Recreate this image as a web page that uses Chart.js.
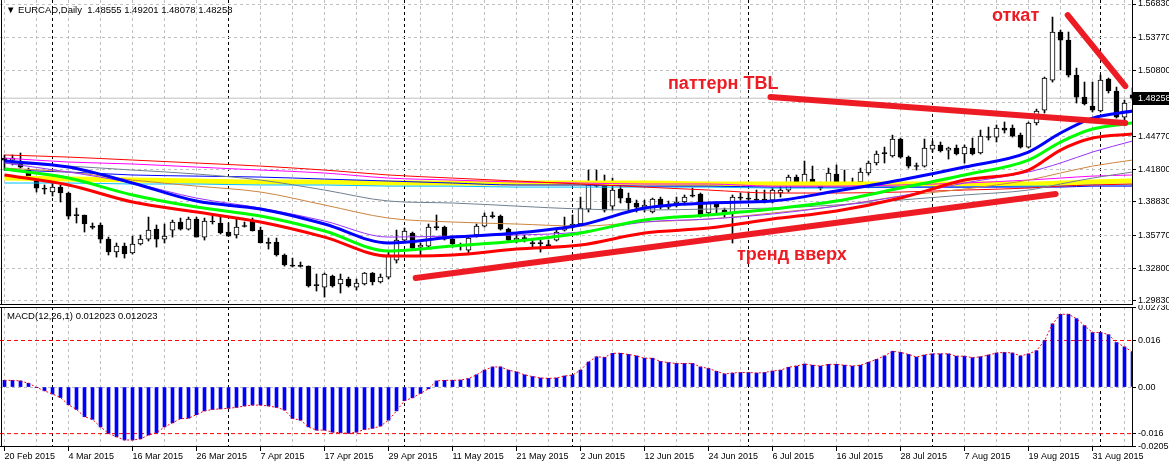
<!DOCTYPE html>
<html>
<head>
<meta charset="utf-8">
<title>EURCAD Daily</title>
<script src="https://cdn.jsdelivr.net/npm/chart.js@4.4.1/dist/chart.umd.min.js"></script>
<style>
  body { margin: 0; background: #fff; }
  #wrap { position: relative; width: 1169px; height: 469px; overflow: hidden; font-family: 'Liberation Sans', Arial, sans-serif; }
  #priceChart { position: absolute; left: 0; top: 0; }
  #macdChart { position: absolute; left: 0; top: 305px; }
  .caption { position: absolute; font-size: 9.5px; color: #000; white-space: pre; }
  .note { position: absolute; color: #ed1c24; font-weight: bold; font-size: 18px; white-space: nowrap; }
</style>
</head>
<body>
<div id="wrap">
  <canvas id="priceChart" width="1169" height="305"></canvas>
  <canvas id="macdChart" width="1169" height="164"></canvas>
  <div class="caption" style="left:6px;top:4px">▼ EURCAD,Daily  1.48555 1.49201 1.48078 1.48258</div>
  <div class="caption" style="left:7px;top:310px">MACD(12,26,1) 0.012023 0.012023</div>
  <div class="note" style="left:668px;top:73px">паттерн TBL</div>
  <div class="note" style="left:737px;top:244px">тренд вверх</div>
  <div class="note" style="left:992px;top:5px">откат</div>
</div>
<script>
// Daily bars, 20 Feb 2015 .. 7 Sep 2015 (weekdays), index 0..141
const OPEN = [
  1.4281,1.4263,1.4245,1.4172,1.4081,1.4008,1.3972,1.4017,1.3963,1.3763,
  1.3763,1.3653,1.3672,1.3544,1.3426,1.3480,1.3417,1.3499,1.3544,1.3635,
  1.3544,1.3626,1.3699,1.3635,1.3726,1.3562,1.3708,1.3690,1.3608,1.3581,
  1.3662,1.3708,1.3626,1.3508,1.3517,1.3399,1.3298,1.3302,1.3298,1.3126,
  1.3107,1.3207,1.3135,1.3180,1.3107,1.3135,1.3235,1.3153,1.3198,1.3353,
  1.3535,1.3599,1.3471,1.3480,1.3653,1.3653,1.3544,1.3490,1.3444,1.3581,
  1.3662,1.3753,1.3753,1.3635,1.3535,1.3553,1.3508,1.3508,1.3490,1.3535,
  1.3626,1.3653,1.3681,1.3817,1.4026,1.4036,1.3844,1.3999,1.3917,1.3872,
  1.3835,1.3790,1.3908,1.3835,1.3863,1.3881,1.3935,1.3954,1.3781,1.3872,
  1.3808,1.3781,1.3926,1.3917,1.3908,1.3908,1.3899,1.3963,1.3990,1.4108,
  1.4054,1.4090,1.4026,1.4054,1.4136,1.4063,1.4054,1.4063,1.4145,1.4236,
  1.4327,1.4300,1.4454,1.4290,1.4208,1.4208,1.4363,1.4400,1.4354,1.4372,
  1.4318,1.4372,1.4327,1.4472,1.4472,1.4554,1.4554,1.4490,1.4381,1.4600,
  1.4718,1.4991,1.5428,1.5355,1.5036,1.4836,1.4755,1.4709,1.5000,1.4891,
  1.4654,1.48555
];
const HIGH = [
  1.4309,1.4309,1.4327,1.4190,1.4099,1.4036,1.4054,1.4036,1.3972,1.3826,
  1.3763,1.3690,1.3690,1.3562,1.3508,1.3508,1.3571,1.3581,1.3744,1.3672,
  1.3681,1.3717,1.3735,1.3744,1.3744,1.3735,1.3753,1.3744,1.3690,1.3735,
  1.3699,1.3735,1.3653,1.3553,1.3553,1.3408,1.3371,1.3335,1.3300,1.3226,
  1.3235,1.3216,1.3226,1.3198,1.3180,1.3240,1.3240,1.3226,1.3426,1.3626,
  1.3644,1.3608,1.3508,1.3681,1.3763,1.3662,1.3553,1.3508,1.3571,1.3681,
  1.3781,1.3790,1.3763,1.3644,1.3599,1.3581,1.3535,1.3535,1.3535,1.3635,
  1.3744,1.3763,1.3926,1.4172,1.4172,1.4127,1.4099,1.4054,1.3963,1.3899,
  1.3899,1.3917,1.3926,1.3890,1.3926,1.3945,1.4008,1.3963,1.3881,1.3881,
  1.3826,1.3945,1.3963,1.3972,1.3990,1.3990,1.4008,1.4026,1.4127,1.4127,
  1.4254,1.4208,1.4063,1.4190,1.4218,1.4172,1.4099,1.4190,1.4254,1.4345,
  1.4381,1.4490,1.4463,1.4300,1.4236,1.4454,1.4436,1.4427,1.4381,1.4400,
  1.4400,1.4463,1.4536,1.4563,1.4582,1.4609,1.4582,1.4509,1.4609,1.4727,
  1.5018,1.5564,1.5446,1.5428,1.5100,1.4973,1.4973,1.5036,1.5009,1.4927,
  1.4809,1.49201
];
const LOW = [
  1.4172,1.4218,1.4190,1.4108,1.3972,1.3954,1.3935,1.3881,1.3726,1.3690,
  1.3608,1.3635,1.3508,1.3399,1.3380,1.3371,1.3408,1.3490,1.3526,1.3471,
  1.3508,1.3562,1.3626,1.3626,1.3562,1.3535,1.3681,1.3590,1.3571,1.3553,
  1.3653,1.3617,1.3508,1.3453,1.3389,1.3298,1.3289,1.3289,1.3107,1.3071,
  1.3016,1.3107,1.3053,1.3107,1.3080,1.3126,1.3126,1.3144,1.3180,1.3326,
  1.3517,1.3453,1.3389,1.3471,1.3626,1.3535,1.3471,1.3444,1.3417,1.3562,
  1.3653,1.3735,1.3626,1.3517,1.3508,1.3517,1.3471,1.3426,1.3462,1.3526,
  1.3617,1.3644,1.3672,1.3790,1.4017,1.3790,1.3808,1.3872,1.3790,1.3790,
  1.3790,1.3781,1.3817,1.3817,1.3835,1.3854,1.3926,1.3744,1.3763,1.3781,
  1.3744,1.3508,1.3899,1.3899,1.3881,1.3872,1.3872,1.3926,1.3972,1.4036,
  1.4036,1.4026,1.3990,1.4026,1.4036,1.4036,1.4026,1.4054,1.4127,1.4218,
  1.4236,1.4290,1.4281,1.4190,1.4172,1.4199,1.4336,1.4336,1.4272,1.4309,
  1.4236,1.4309,1.4318,1.4445,1.4427,1.4509,1.4472,1.4372,1.4372,1.4582,
  1.4691,1.4973,1.5082,1.5018,1.4782,1.4764,1.4700,1.4700,1.4873,1.4645,
  1.4627,1.48078
];
const CLOSE = [
  1.4263,1.4281,1.4199,1.4117,1.4008,1.3999,1.4017,1.3963,1.3753,1.3758,
  1.3681,1.3650,1.3544,1.3426,1.3480,1.3408,1.3499,1.3544,1.3626,1.3544,
  1.3571,1.3699,1.3635,1.3726,1.3562,1.3708,1.3699,1.3599,1.3571,1.3653,
  1.3658,1.3617,1.3508,1.3505,1.3399,1.3308,1.3302,1.3295,1.3117,1.3120,
  1.3226,1.3117,1.3180,1.3117,1.3144,1.3235,1.3153,1.3198,1.3399,1.3535,
  1.3617,1.3462,1.3490,1.3653,1.3648,1.3544,1.3499,1.3485,1.3553,1.3662,
  1.3753,1.3748,1.3635,1.3535,1.3553,1.3548,1.3503,1.3503,1.3485,1.3608,
  1.3653,1.3681,1.3826,1.4036,1.4031,1.3808,1.3990,1.3917,1.3872,1.3835,
  1.3854,1.3908,1.3835,1.3863,1.3881,1.3926,1.3945,1.3763,1.3872,1.3835,
  1.3772,1.3926,1.3917,1.3908,1.3899,1.3890,1.3990,1.3990,1.4108,1.4063,
  1.4136,1.4054,1.4008,1.4145,1.4063,1.4054,1.4063,1.4154,1.4236,1.4318,
  1.4322,1.4454,1.4290,1.4208,1.4204,1.4372,1.4400,1.4345,1.4372,1.4318,
  1.4381,1.4318,1.4481,1.4468,1.4554,1.4536,1.4481,1.4381,1.4600,1.4709,
  1.5009,1.5428,1.5355,1.5036,1.4836,1.4773,1.4718,1.4991,1.4891,1.4654,
  1.4782,1.48258
];

// MACD(12,26,1) main value per bar; the signal (period 1) equals it
const MACD = [
  0.0023,0.0023,0.0021,0.0013,-0.0001,-0.0013,-0.0024,-0.0036,-0.0061,-0.0077,
  -0.0102,-0.0111,-0.0137,-0.0159,-0.0171,-0.0182,-0.0182,-0.0178,-0.0165,-0.0157,
  -0.0137,-0.0123,-0.0109,-0.0107,-0.0095,-0.0082,-0.0077,-0.0075,-0.0073,-0.0070,
  -0.0065,-0.0062,-0.0062,-0.0065,-0.0070,-0.0079,-0.0108,-0.0114,-0.0137,-0.0148,
  -0.0148,-0.0155,-0.0157,-0.0159,-0.0155,-0.0146,-0.0142,-0.0134,-0.0114,-0.0082,
  -0.0047,-0.0037,-0.0022,-0.0006,0.0021,0.0023,0.0023,0.0024,0.0029,0.0042,
  0.0058,0.0069,0.0069,0.0058,0.0052,0.0042,0.0036,0.0031,0.0030,0.0031,
  0.0038,0.0041,0.0058,0.0086,0.0104,0.0102,0.0116,0.0116,0.0112,0.0107,
  0.0099,0.0099,0.0088,0.0084,0.0081,0.0081,0.0081,0.0069,0.0064,0.0054,
  0.0045,0.0048,0.0050,0.0050,0.0048,0.0050,0.0055,0.0058,0.0068,0.0072,
  0.0079,0.0075,0.0072,0.0078,0.0078,0.0075,0.0072,0.0075,0.0085,0.0095,
  0.0107,0.0123,0.0119,0.0112,0.0103,0.0110,0.0114,0.0114,0.0114,0.0106,
  0.0106,0.0101,0.0104,0.0110,0.0117,0.0119,0.0117,0.0107,0.0114,0.0125,
  0.0159,0.0217,0.0250,0.0250,0.0235,0.0211,0.0187,0.0188,0.0180,0.0153,
  0.0138,0.0120
];
const MACD_LEVELS = [0.016, -0.016];

// moving averages, read at these bar indices
const MA_IDX = [0,8,16,24,32,40,48,56,64,72,80,88,96,104,112,120,128,132,136,141];
const MA_BLUE   = [1.4254,1.4199,1.4054,1.3890,1.3817,1.3681,1.3508,1.3562,1.3599,1.3672,1.3826,1.3872,1.3890,1.3981,1.4081,1.4199,1.4336,1.4509,1.4645,1.4709];
const MA_GREEN  = [1.4181,1.4099,1.3945,1.3835,1.3753,1.3617,1.3435,1.3480,1.3526,1.3599,1.3717,1.3763,1.3817,1.3890,1.4008,1.4127,1.4263,1.4427,1.4545,1.4600];
const MA_RED    = [1.4127,1.4036,1.3881,1.3790,1.3699,1.3562,1.3389,1.3399,1.3453,1.3490,1.3599,1.3644,1.3726,1.3799,1.3917,1.4081,1.4172,1.4354,1.4463,1.4500];
const MA_PURPLE = [1.4236,1.4154,1.4054,1.3917,1.3826,1.3708,1.3562,1.3571,1.3581,1.3608,1.3699,1.3726,1.3772,1.3844,1.3935,1.4054,1.4154,1.4236,1.4336,1.4436];
const MA_BROWN  = [1.4190,1.4154,1.4081,1.4026,1.3972,1.3854,1.3735,1.3699,1.3681,1.3662,1.3699,1.3726,1.3781,1.3844,1.3935,1.3999,1.4081,1.4145,1.4208,1.4263];
const MA_GRAY   = [1.4236,1.4208,1.4172,1.4136,1.4081,1.3990,1.3890,1.3872,1.3844,1.3817,1.3808,1.3817,1.3826,1.3854,1.3899,1.3945,1.3990,1.4045,1.4099,1.4154];
const MA_RED2   = [1.4309,1.4290,1.4263,1.4236,1.4208,1.4172,1.4127,1.4099,1.4072,1.4045,1.4017,1.3990,1.3963,1.3963,1.3972,1.3990,1.4008,1.4026,1.4036,1.4045];
const MA_MAGENTA= [1.4281,1.4245,1.4227,1.4199,1.4172,1.4145,1.4099,1.4081,1.4063,1.4054,1.4045,1.4045,1.4026,1.4026,1.4036,1.4054,1.4081,1.4099,1.4117,1.4127];
const MA_YELLOW = [1.4099,1.4090,1.4081,1.4072,1.4063,1.4063,1.4054,1.4054,1.4054,1.4054,1.4054,1.4045,1.4045,1.4045,1.4045,1.4045,1.4045,1.4054,1.4063,1.4072];
const MA_BLUE2  = [1.4172,1.4154,1.4127,1.4117,1.4108,1.4090,1.4072,1.4054,1.4036,1.4036,1.4026,1.4026,1.4017,1.4017,1.4017,1.4017,1.4017,1.4017,1.4026,1.4026];
const MA_CYAN   = [1.4054,1.4054,1.4045,1.4045,1.4036,1.4036,1.4026,1.4026,1.4017,1.4017,1.4017,1.4017,1.4008,1.4008,1.4017,1.4017,1.4026,1.4026,1.4036,1.4036];

// hand drawn trend lines: [bar index, price] end points
const LINE_TREND_UP = [[51.4, 1.3189], [131.4, 1.3954]];
const LINE_TBL      = [[95.75, 1.4836], [140.1, 1.4600]];
const LINE_OTKAT    = [[132.9, 1.5582], [140.1, 1.4936]];

// axes
const DATE_LABELS = ['20 Feb 2015','4 Mar 2015','16 Mar 2015','26 Mar 2015','7 Apr 2015','17 Apr 2015',
  '29 Apr 2015','11 May 2015','21 May 2015','2 Jun 2015','12 Jun 2015','24 Jun 2015','6 Jul 2015',
  '16 Jul 2015','28 Jul 2015','7 Aug 2015','19 Aug 2015','31 Aug 2015'];
const LABEL_STEP = 8;   // bars between date labels
const GRID_STEP = 4;    // bars between vertical grid lines
const SEPARATORS = [6, 28, 50, 71, 93, 116, 137]; // first bar of each month
const PRICE_TICKS = [1.56830,1.53770,1.50800,1.47830,1.44770,1.41800,1.38830,1.35770,1.32800,1.29830];
const MACD_TICKS = [0.02730, 0.016, 0, -0.016, -0.02058];
const MACD_TICK_LABELS = ['0.02730', '0.016', '0.00', '-0.016', '-0.02058'];

Chart.defaults.font.family = "'Liberation Sans', Arial, sans-serif";
Chart.defaults.font.size = 9;
Chart.defaults.color = '#000';
Chart.defaults.animation = false;

const X_MIN = -0.5625, X_MAX = 140.9375;
const LAST = CLOSE.length - 1;
const GRID_GRAY = '#c0c0c0';
const NONE = 'rgba(0,0,0,0)';

function gridTicks() {
    const t = [];
    for (let i = 0; i <= LAST; i += GRID_STEP) t.push(i);
    SEPARATORS.forEach(s => { if (!t.includes(s)) t.push(s); });
    return t.sort((a, b) => a - b).map(v => ({ value: v }));
}

function isLabelTick(v) {
    return v % LABEL_STEP === 0 && v / LABEL_STEP < DATE_LABELS.length;
}

function xScale(showLabels) {
    return {
        type: 'linear',
        min: X_MIN,
        max: X_MAX,
        offset: false,
        afterBuildTicks: axis => { axis.ticks = gridTicks(); },
        afterFit: axis => {
            axis.height = showLabels ? 22 : 0;
            axis.paddingLeft = 0;
            axis.paddingRight = 0;
        },
        grid: {
            offset: false,
            color: ctx => SEPARATORS.includes(ctx.tick.value) ? '#000' : GRID_GRAY,
            drawTicks: showLabels,
            tickLength: 4,
            tickColor: ctx => isLabelTick(ctx.tick.value) ? '#000' : NONE,
            tickBorderDash: []
        },
        border: { display: false, dash: [3, 3] },
        ticks: {
            display: showLabels,
            autoSkip: false,
            maxRotation: 0,
            align: 'start',
            padding: 0,
            callback: v => isLabelTick(v) ? DATE_LABELS[v / LABEL_STEP] : ''
        }
    };
}

function lineFrom(pairs) {
    return pairs.map(p => ({ x: p[0], y: p[1] }));
}

function maLine(values, color, width, order) {
    return {
        type: 'line',
        data: MA_IDX.map((x, i) => ({ x: x, y: values[i] })),
        borderColor: color,
        borderWidth: width,
        pointRadius: 0,
        cubicInterpolationMode: 'monotone',
        order: order
    };
}

function trendLine(pairs) {
    return {
        type: 'line',
        data: lineFrom(pairs),
        borderColor: '#ed1c24',
        borderWidth: 6,
        borderCapStyle: 'round',
        pointRadius: 0,
        order: 0
    };
}

function frame(sides) {
    return {
        id: 'frame',
        afterDraw(chart) {
            const { ctx, chartArea: a } = chart;
            ctx.save();
            ctx.strokeStyle = '#000';
            ctx.lineWidth = 1;
            ctx.beginPath();
            if (sides.includes('l')) { ctx.moveTo(1.5, a.top); ctx.lineTo(1.5, a.bottom); }
            if (sides.includes('r')) { ctx.moveTo(a.right + 0.5, a.top); ctx.lineTo(a.right + 0.5, a.bottom); }
            if (sides.includes('t')) { ctx.moveTo(0, a.top + 0.5); ctx.lineTo(a.right, a.top + 0.5); }
            if (sides.includes('b')) { ctx.moveTo(0, a.bottom - 0.5); ctx.lineTo(a.right, a.bottom - 0.5); }
            ctx.stroke();
            ctx.restore();
        }
    };
}

// black box with the last price on the right scale
const priceTag = {
    id: 'priceTag',
    afterDraw(chart) {
        const { ctx, chartArea: a } = chart;
        const y = Math.round(chart.scales.y.getPixelForValue(CLOSE[LAST]));
        ctx.save();
        ctx.fillStyle = '#000';
        ctx.fillRect(a.right + 1, y - 6, 36, 13);
        ctx.fillStyle = '#fff';
        ctx.font = "9px 'Liberation Sans', Arial, sans-serif";
        ctx.textBaseline = 'middle';
        ctx.fillText(CLOSE[LAST].toFixed(5), a.right + 6, y + 0.5);
        ctx.restore();
    }
};

const bodies = OPEN.map((o, i) => ({ x: i, y: [o, CLOSE[i]] }));
const wicks = LOW.map((l, i) => ({ x: i, y: [l, HIGH[i]] }));

new Chart(document.getElementById('priceChart'), {
    type: 'bar',
    data: {
        datasets: [
            trendLine(LINE_TREND_UP),
            trendLine(LINE_TBL),
            trendLine(LINE_OTKAT),
            maLine(MA_BLUE, '#0000ff', 3, 1),
            maLine(MA_GREEN, '#00ff00', 3, 2),
            maLine(MA_RED, '#ff0000', 3, 3),
            maLine(MA_PURPLE, '#9933ff', 1, 4),
            maLine(MA_BROWN, '#cd853f', 1, 5),
            maLine(MA_GRAY, '#708090', 1, 6),
            maLine(MA_RED2, '#ff0000', 1, 7),
            maLine(MA_MAGENTA, '#ff00ff', 1, 8),
            maLine(MA_BLUE2, '#0000ff', 1, 9),
            maLine(MA_CYAN, '#00bfff', 1, 10),
            maLine(MA_YELLOW, '#ffff00', 5, 11),
            {
                type: 'bar',
                data: bodies,
                grouped: false,
                barThickness: 5,
                maxBarThickness: 5,
                minBarLength: 1,
                borderWidth: 1,
                borderSkipped: false,
                borderColor: '#000',
                backgroundColor: ctx => {
                    const i = ctx.dataIndex;
                    return CLOSE[i] - OPEN[i] > 0.0012 ? '#fff' : '#000';
                },
                order: 20
            },
            {
                type: 'bar',
                data: wicks,
                grouped: false,
                barThickness: 1,
                maxBarThickness: 1,
                backgroundColor: '#000',
                borderWidth: 0,
                order: 21
            },
            {
                // bid line
                type: 'line',
                data: [{ x: X_MIN, y: CLOSE[LAST] }, { x: X_MAX, y: CLOSE[LAST] }],
                borderColor: GRID_GRAY,
                borderWidth: 1,
                pointRadius: 0,
                order: 30
            }
        ]
    },
    options: {
        responsive: false,
        events: [],
        layout: { padding: 0 },
        plugins: { legend: { display: false }, tooltip: { enabled: false } },
        scales: {
            x: xScale(false),
            y: {
                position: 'right',
                min: 1.2944,
                max: 1.57194,
                afterBuildTicks: axis => { axis.ticks = PRICE_TICKS.map(v => ({ value: v })); },
                afterFit: axis => { axis.width = 37; axis.paddingTop = 0; axis.paddingBottom = 0; },
                grid: { color: GRID_GRAY, tickColor: '#000', tickLength: 4, tickBorderDash: [] },
                border: { display: false, dash: [3, 3] },
                ticks: { padding: 2, callback: v => v.toFixed(5) }
            }
        }
    },
    plugins: [frame('lrb'), priceTag]
});

new Chart(document.getElementById('macdChart'), {
    type: 'bar',
    data: {
        datasets: [
            {
                type: 'line',
                data: MACD.map((v, i) => ({ x: i, y: v })),
                borderColor: '#ff0000',
                borderWidth: 1,
                borderDash: [2, 2],
                pointRadius: 0,
                order: 1
            },
            {
                type: 'bar',
                data: MACD.map((v, i) => ({ x: i, y: v })),
                grouped: false,
                barThickness: 3,
                maxBarThickness: 3,
                backgroundColor: '#0000ff',
                borderWidth: 0,
                order: 2
            },
            ...MACD_LEVELS.map(lv => ({
                type: 'line',
                data: [{ x: X_MIN, y: lv }, { x: X_MAX, y: lv }],
                borderColor: '#ff0000',
                borderWidth: 1,
                borderDash: [4, 3],
                pointRadius: 0,
                order: 3
            }))
        ]
    },
    options: {
        responsive: false,
        events: [],
        layout: { padding: { top: 2 } },
        plugins: { legend: { display: false }, tooltip: { enabled: false } },
        scales: {
            x: xScale(true),
            y: {
                position: 'right',
                min: -0.0206,
                max: 0.0275,
                afterBuildTicks: axis => { axis.ticks = MACD_TICKS.map(v => ({ value: v })); },
                afterFit: axis => { axis.width = 37; axis.paddingTop = 0; axis.paddingBottom = 0; },
                grid: {
                    color: ctx => ctx.tick.value === 0 ? GRID_GRAY : NONE,
                    tickColor: '#000', tickLength: 4, tickBorderDash: []
                },
                border: { display: false, dash: [3, 3] },
                ticks: { padding: 2, callback: (v, i) => MACD_TICK_LABELS[i] }
            }
        }
    },
    plugins: [frame('lrtb')]
});
</script>
</body>
</html>
